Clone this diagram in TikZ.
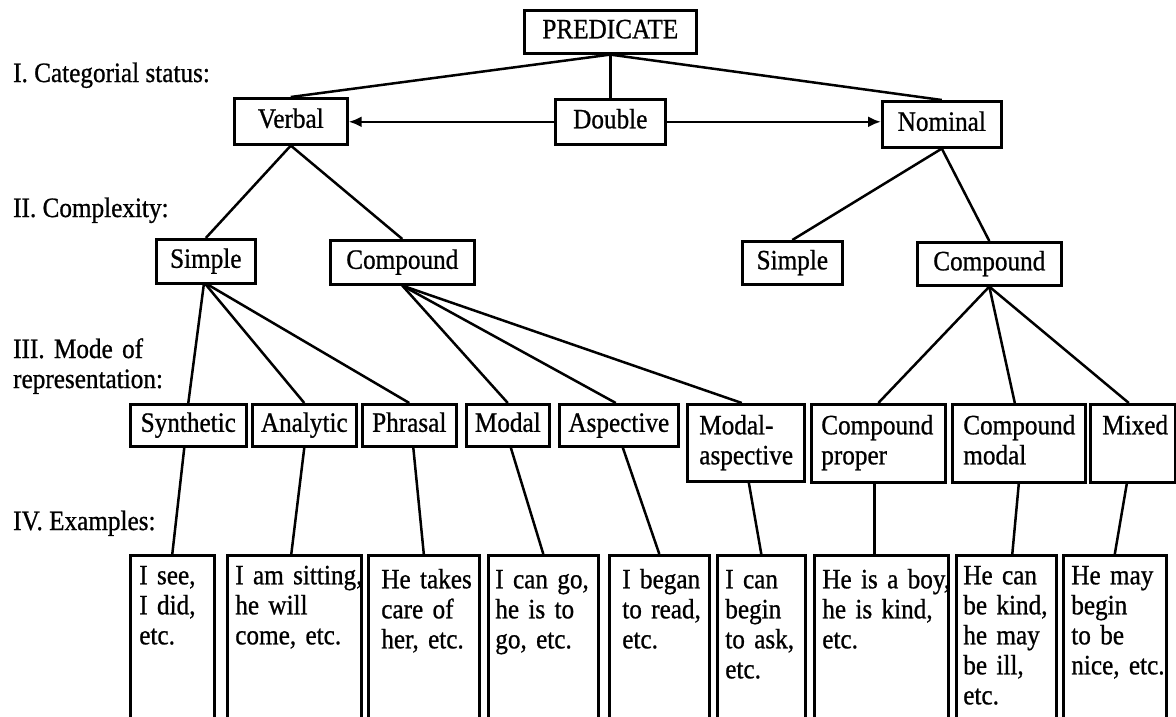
\documentclass[tikz,border=0pt]{standalone}
\usepackage{fontspec}
\setmainfont{Liberation Serif}[FakeStretch=0.9, FakeBold=0.8]
\usetikzlibrary{arrows.meta}
\newcommand\diafont{\fontsize{28pt}{30pt}\selectfont}
\hyphenpenalty=10000
\exhyphenpenalty=10000
\begin{document}
\begin{tikzpicture}[x=1pt,y=-1pt,
  every node/.style={font=\diafont},
  conn/.style={line width=2.5pt},
  box/.style={draw, line width=2.6pt, inner sep=0pt, text height=18pt, text depth=5pt, anchor=north west},
  tallbox/.style={draw, line width=2.6pt, inner ysep=0pt, text height=30pt, text depth=48pt, align=left, anchor=north west},
  exbox/.style={draw, line width=2.6pt, inner ysep=0pt, text height=29pt, text depth=170pt, align=left, anchor=north west},
  lvl/.style={anchor=base west, inner sep=0pt},
  tip/.style={-{Latex[length=13pt,width=11pt]}},
]
\useasboundingbox (0,0) rectangle (1176,717);
\fill[white] (0,0) rectangle (1176,717);
\clip (0,0) rectangle (1176,717);

% level captions
\node[lvl] (l1) at (13,82) {I. Categorial status:};
\node[lvl] (l2) at (13,217) {II. Complexity:};
\node[lvl, text width=220pt, align=left] (l3) at (13,358) {III. Mode of\\representation:};
\node[lvl] (l4) at (13,530) {IV. Examples:};

% root and categorial status
\node[box, minimum width=172pt, minimum height=43pt] (pred) at (523,9) {PREDICATE};
\node[box, minimum width=113pt, minimum height=46pt] (vb) at (233,97) {Verbal};
\node[box, minimum width=110pt, minimum height=45pt] (dbl) at (554,98) {Double};
\node[box, minimum width=119pt, minimum height=46pt] (nom) at (881,100) {Nominal};

% complexity
\node[box, minimum width=99pt, minimum height=44pt] (vs) at (155,238) {Simple};
\node[box, minimum width=144pt, minimum height=44pt] (vc) at (329,239) {Compound};
\node[box, minimum width=100pt, minimum height=43pt] (ns) at (741,240) {Simple};
\node[box, minimum width=144pt, minimum height=43pt] (nc) at (916,241) {Compound};

% mode of representation
\node[box, minimum width=116pt, minimum height=42pt] (syn) at (129,403) {Synthetic};
\node[box, minimum width=104pt, minimum height=42pt] (ana) at (251,403) {Analytic};
\node[box, minimum width=94pt, minimum height=42pt] (phr) at (361,403) {Phrasal};
\node[box, minimum width=83pt, minimum height=42pt] (mod) at (465,403) {Modal};
\node[box, minimum width=119pt, minimum height=42pt] (asp) at (558,403) {Aspective};
\node[tallbox, inner xsep=12pt, text width=93pt, text depth=47pt] (mas) at (686,403) {Modal-\\aspective};
\node[tallbox, inner xsep=10pt, text width=114pt] (cpp) at (810,403) {Compound\\proper};
\node[tallbox, inner xsep=11pt, text width=111pt] (cpm) at (951,403) {Compound\\modal};
\node[tallbox, inner xsep=12pt, text width=61pt] (mix) at (1089,403) {Mixed};

% examples
\node[exbox, inner xsep=9pt, text width=66pt] (e1) at (129,554) {I~see,\\I~did,\\etc.};
\node[exbox, inner xsep=8pt, text width=118pt] (e2) at (226,554) {I~am~sitting,\\he~will\\come,~etc.};
\node[exbox, inner xsep=13pt, text width=85pt, text height=33pt] (e3) at (367,554) {He~takes\\care~of\\her,~etc.};
\node[exbox, inner xsep=7pt, text width=96pt, text height=33pt] (e4) at (487,554) {I~can~go,\\he~is~to\\go,~etc.};
\node[exbox, inner xsep=13pt, text width=74pt, text height=33pt] (e5) at (608,554) {I~began\\to~read,\\etc.};
\node[exbox, inner xsep=8pt, text width=72pt, text height=33pt] (e6) at (716,554) {I~can\\begin\\to~ask,\\etc.};
\node[exbox, inner xsep=8pt, text width=118pt, text height=33pt] (e7) at (813,554) {He~is~a~boy,\\he~is~kind,\\etc.};
\node[exbox, inner xsep=7pt, text width=86pt] (e8) at (955,554) {He~can\\be~kind,\\he~may\\be~ill,\\etc.};
\node[exbox, inner xsep=8pt, text width=87pt] (e9) at (1062,554) {He~may\\begin\\to~be\\nice,~etc.};

% connectors
\draw[conn] (pred.south) -- (vb.north);
\draw[conn] (pred.south) -- (dbl.north);
\draw[conn] (pred.south) -- (nom.north);
\draw[conn,tip] (dbl.west) -- (dbl.west -| vb.east);
\draw[conn,tip] (dbl.east) -- (dbl.east -| nom.west);

\draw[conn] (vb.south) -- (vs.north);
\draw[conn] (vb.south) -- (vc.north);
\draw[conn] (nom.south) -- (ns.north);
\draw[conn] (nom.south) -- (nc.north);

\draw[conn] ([xshift=-2pt]vs.south) -- (syn.north);
\draw[conn] (vs.south) -- (ana.north);
\draw[conn] ([xshift=2pt]vs.south) -- (phr.north);
\draw[conn] (vc.south) -- (mod.north);
\draw[conn] (vc.south) -- ([xshift=-3pt]asp.north);
\draw[conn] (vc.south) -- ([xshift=-4pt]mas.north);
\draw[conn] (nc.south) -- (cpp.north);
\draw[conn] (nc.south) -- ([xshift=-4pt]cpm.north);
\draw[conn] (nc.south) -- ([xshift=-4pt]mix.north);

\draw[conn] ([xshift=-4pt]syn.south) -- (e1.north);
\draw[conn] (ana.south) -- ([xshift=-3pt]e2.north);
\draw[conn] ([xshift=4pt]phr.south) -- (e3.north);
\draw[conn] ([xshift=3pt]mod.south) -- (e4.north);
\draw[conn] ([xshift=4pt]asp.south) -- (e5.north);
\draw[conn] ([xshift=3pt]mas.south) -- (e6.north);
\draw[conn] ([xshift=-4pt]cpp.south) -- ([xshift=-7pt]e7.north);
\draw[conn] (cpm.south) -- ([xshift=6pt]e8.north);
\draw[conn] ([xshift=-6pt]mix.south) -- (e9.north);
\end{tikzpicture}
\end{document}
